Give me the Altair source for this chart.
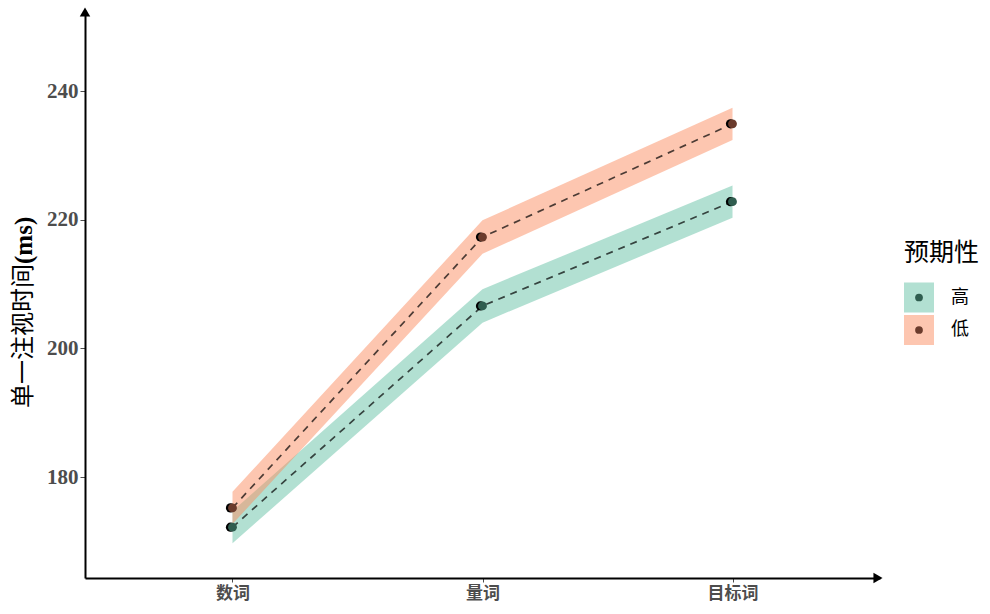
import altair as alt
import pandas as pd

# Fixation durations by word position and predictability
stages = ["数词", "量词", "目标词"]
groups = ["高", "低"]
high_mean = [172.2, 206.6, 222.8]
high_se = [2.5, 2.6, 2.5]
low_mean = [175.2, 217.3, 234.9]
low_se = [2.5, 2.6, 2.5]

ribbon_colors = ["#66C2A5", "#FC8D62"]
dark_colors = ["#2F5D4F", "#6B3B2C"]

rows = []
for gi, (g, means, ses) in enumerate([("高", high_mean, high_se), ("低", low_mean, low_se)]):
    for s, m, e in zip(stages, means, ses):
        rows.append({"stage": s, "group": g, "mean": m, "lo": m - e, "hi": m + e,
                     "dark": dark_colors[gi]})
df = pd.DataFrame(rows)

W, H = 795, 568
CJK = "Noto Sans CJK SC"

x_enc = alt.X(
    "stage:N",
    sort=stages,
    scale=alt.Scale(type="point", padding=0.59),
    axis=alt.Axis(
        title=None, labelAngle=0, labelFont=CJK, labelFontSize=17, labelFontWeight="bold",
        labelColor="#4D4D4D", tickColor="#4D4D4D", tickSize=4, labelPadding=3,
        domainColor="black", domainWidth=2, grid=False,
    ),
)
y_scale = alt.Scale(domain=[164.3, 252.6], nice=False, zero=False)
y_axis = alt.Axis(
    title=None, values=[180, 200, 220, 240], labelFont="Liberation Serif", labelFontSize=21,
    labelFontWeight="bold", labelColor="#4D4D4D", tickColor="#4D4D4D", tickSize=5,
    labelPadding=2, domainColor="black", domainWidth=2, grid=False,
)
color_scale = alt.Scale(domain=groups, range=ribbon_colors)

ribbon = alt.Chart(df).mark_area(opacity=0.5).encode(
    x=x_enc,
    y=alt.Y("lo:Q", scale=y_scale, axis=y_axis),
    y2="hi:Q",
    color=alt.Color("group:N", scale=color_scale, legend=None),
    order=alt.Order("group:N"),
)

line = alt.Chart(df).mark_line(strokeDash=[7, 6], strokeWidth=1.7, color="black", opacity=0.7).encode(
    x=x_enc,
    y=alt.Y("mean:Q", scale=y_scale),
    detail="group:N",
)

pts_black = alt.Chart(df).mark_circle(size=85, color="black", opacity=1).encode(
    x=x_enc, y=alt.Y("mean:Q", scale=y_scale), xOffset=alt.value(-2),
)
pts = alt.Chart(df).mark_circle(size=78, opacity=1).encode(
    x=x_enc, y=alt.Y("mean:Q", scale=y_scale),
    fill=alt.Fill("dark:N", scale=None),
)

# Axis arrow heads
arrow_up = alt.Chart(pd.DataFrame({"a": [0]})).mark_point(
    shape="triangle-up", filled=True, color="black", size=110, opacity=1
).encode(x=alt.value(0), y=alt.value(2))
arrow_right = alt.Chart(pd.DataFrame({"a": [0]})).mark_point(
    shape="triangle-right", filled=True, color="black", size=110, opacity=1
).encode(x=alt.value(W - 2), y=alt.value(H))

# Y-axis title: Chinese text followed by bold unit
ytitle_cn = alt.Chart(pd.DataFrame({"t": ["单一注视时间"]})).mark_text(
    angle=270, align="left", baseline="middle", font=CJK, fontSize=24, color="black"
).encode(text="t:N", x=alt.value(-61), y=alt.value(398))
ytitle_ms = alt.Chart(pd.DataFrame({"t": ["(ms)"]})).mark_text(
    angle=270, align="left", baseline="middle", font="Liberation Serif", fontSize=25,
    fontWeight="bold", color="black"
).encode(text="t:N", x=alt.value(-61), y=alt.value(254))

# Legend
legend_layers = [
    alt.Chart(pd.DataFrame({"t": ["预期性"]})).mark_text(
        align="left", baseline="middle", font=CJK, fontSize=25, color="black"
    ).encode(text="t:N", x=alt.value(819), y=alt.value(243))
]
for i, g in enumerate(groups):
    yy = 287.5 + 32.5 * i
    legend_layers.append(
        alt.Chart(pd.DataFrame({"g": [g]})).mark_square(size=900, color=ribbon_colors[i], opacity=0.5)
        .encode(x=alt.value(834), y=alt.value(yy))
    )
    legend_layers.append(
        alt.Chart(pd.DataFrame({"g": [g]})).mark_circle(size=60, color=dark_colors[i], opacity=1)
        .encode(x=alt.value(834), y=alt.value(yy))
    )
    legend_layers.append(
        alt.Chart(pd.DataFrame({"g": [g]})).mark_text(
            align="left", baseline="middle", font=CJK, fontSize=18, color="black"
        ).encode(text="g:N", x=alt.value(866), y=alt.value(yy))
    )

chart = alt.layer(
    ribbon, line, pts_black, pts, arrow_up, arrow_right, ytitle_cn, ytitle_ms, *legend_layers
).properties(
    width=W, height=H,
    autosize=alt.AutoSizeParams(type="none"),
    padding={"left": 85, "top": 10, "right": 110, "bottom": 36},
    background="white",
).configure_view(stroke=None)

chart.save("out.html", embed_options={"renderer": "svg", "actions": False})
